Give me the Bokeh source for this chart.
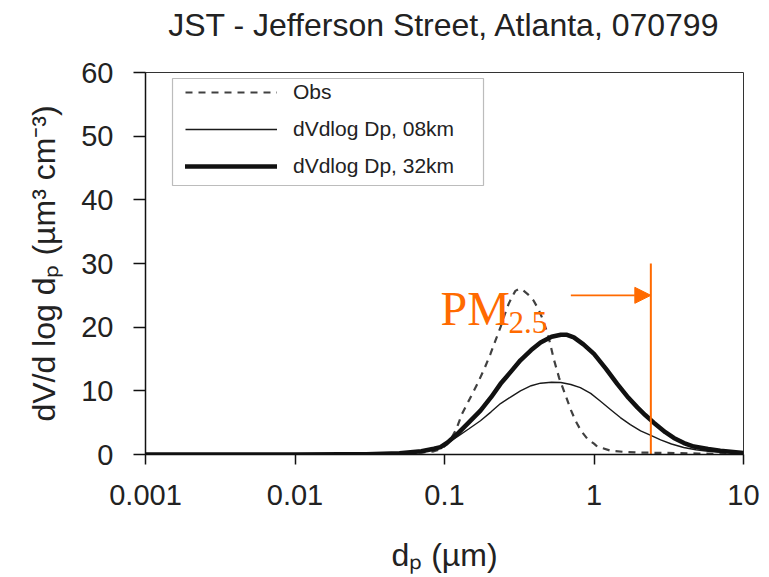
from bokeh.plotting import figure
from bokeh.models import (Legend, LegendItem, BoxAnnotation, Label, Arrow, NormalHead,
                          FixedTicker, CustomJSTickFormatter, Title)
from bokeh.embed import file_html
from bokeh.resources import INLINE

# ---------------- data ----------------
diam_obs = [0.001, 0.01, 0.03, 0.05, 0.07, 0.085, 0.094, 0.104, 0.112, 0.12, 0.131, 0.148,
            0.166, 0.185, 0.203, 0.22, 0.237, 0.253, 0.269, 0.285, 0.298, 0.315, 0.335,
            0.36, 0.394, 0.425, 0.459, 0.5, 0.538, 0.585, 0.645, 0.7, 0.752, 0.82, 0.9,
            1.0, 1.05, 1.29, 1.6, 2.0, 3.0, 5.0, 10.0]
v_obs = [0.0, 0.0, 0.02, 0.1, 0.3, 0.5, 0.8, 1.6, 2.7, 4.0, 6.4, 8.8,
         11.1, 13.5, 15.8, 18.0, 20.0, 22.0, 23.7, 24.9, 25.7, 26.0, 25.8,
         25.2, 24.2, 22.8, 21.0, 18.2, 15.0, 12.0, 9.3, 7.0, 5.3, 3.7, 2.5,
         1.7, 1.25, 0.6, 0.4, 0.3, 0.25, 0.15, 0.05]

diam_32 = [0.001, 0.01, 0.02, 0.03, 0.05, 0.07, 0.085, 0.094, 0.105, 0.122, 0.145, 0.174,
           0.205, 0.237, 0.28, 0.322, 0.38, 0.439, 0.52, 0.6, 0.66, 0.733, 0.85, 1.0,
           1.2, 1.43, 1.7, 1.95, 2.2, 2.51, 3.0, 3.42, 4.0, 4.65, 5.8, 7.0, 10.0]
v_32 = [0.0, 0.0, 0.02, 0.05, 0.2, 0.5, 0.9, 1.15, 1.9, 3.25, 5.0, 6.9,
        9.0, 11.1, 13.1, 14.8, 16.4, 17.6, 18.5, 18.8, 18.8, 18.4, 17.3, 15.8,
        13.5, 11.1, 8.9, 7.4, 6.2, 5.0, 3.5, 2.6, 1.8, 1.25, 0.85, 0.6, 0.25]

diam_08 = [0.001, 0.01, 0.03, 0.05, 0.07, 0.094, 0.122, 0.145, 0.174, 0.205, 0.237, 0.28,
           0.322, 0.38, 0.439, 0.52, 0.6, 0.7, 0.81, 0.95, 1.1, 1.3, 1.5, 1.75, 2.05,
           2.4, 2.79, 3.3, 3.98, 4.8, 5.8, 7.5, 10.0]
v_08 = [0.0, 0.0, 0.05, 0.2, 0.5, 1.1, 2.8, 4.0, 5.3, 6.7, 8.0, 9.1,
        10.0, 10.8, 11.2, 11.35, 11.3, 11.0, 10.5, 9.6, 8.4, 7.0, 5.8, 4.7, 3.7,
        3.0, 2.3, 1.65, 1.1, 0.75, 0.5, 0.3, 0.15]

x_ticks = [0.001, 0.01, 0.1, 1, 10]
y_ticks = [0, 10, 20, 30, 40, 50, 60]

series_labels = ["Obs", "dVdlog Dp, 08km", "dVdlog Dp, 32km"]
title_text = "JST - Jefferson Street, Atlanta, 070799"
x_label = "d\u209a (\u00b5m)"
y_label = "dV/d log d\u209a (\u00b5m\u00b3 cm\u207b\u00b3)"

pm_cut = 2.4          # PM2.5 cut line position (um)
pm_line_top = 30      # top of orange line
pm_arrow_start = 0.70
pm_arrow_y = 25
pm_text_x = 0.094
pm_text_y = 22.9

ORANGE = "#FF6A00"
TXT = "#222222"
SANS = "Liberation Sans"

# ---------------- figure ----------------
p = figure(width=760, height=576, x_axis_type="log", x_range=(0.001, 10), y_range=(0, 60),
           output_backend="svg", toolbar_location=None,
           min_border_left=145, min_border_right=17, min_border_top=72, min_border_bottom=122)
p.background_fill_color = "white"
p.border_fill_color = "white"
p.outline_line_color = "#333333"
p.outline_line_width = 1
p.xgrid.visible = False
p.ygrid.visible = False
p.title.text = ""

# spacer (innermost) then the real title (outer)
p.add_layout(Title(text=" ", text_font_size="20px", standoff=6), "above")
p.add_layout(Title(text=title_text, align="center", text_font=SANS, text_font_size="32px",
                   text_font_style="normal", text_color=TXT, standoff=0, offset=4), "above")

for ax in (p.xaxis[0], p.yaxis[0]):
    ax.axis_line_color = "#111111"
    ax.axis_line_width = 1.5
    ax.major_tick_line_color = "#111111"
    ax.major_tick_line_width = 1.5
    ax.major_tick_in = 0
    ax.minor_tick_line_color = None
    ax.major_label_text_font = SANS
    ax.major_label_text_font_size = "29px"
    ax.major_label_text_color = TXT
    ax.axis_label_text_font = SANS
    ax.axis_label_text_font_style = "normal"
    ax.axis_label_text_color = TXT

p.xaxis.ticker = FixedTicker(ticks=x_ticks)
p.xaxis.formatter = CustomJSTickFormatter(code="return tick.toString();")
p.xaxis.major_tick_out = 10
p.xaxis.major_label_standoff = 20
p.xaxis.axis_label = x_label
p.xaxis.axis_label_text_font_size = "32px"
p.xaxis.axis_label_standoff = 29

p.yaxis.ticker = FixedTicker(ticks=y_ticks)
p.yaxis.major_tick_out = 12
p.yaxis.major_label_standoff = 20
p.yaxis.axis_label = y_label
p.yaxis.axis_label_text_font_size = "32px"
p.yaxis.axis_label_standoff = 16

# ---------------- curves ----------------
r_obs = p.line(diam_obs, v_obs, line_color="#404040", line_width=2.2, line_dash="7 6")
r_08 = p.line(diam_08, v_08, line_color="#1a1a1a", line_width=1.4)
r_32 = p.line(diam_32, v_32, line_color="#111111", line_width=4.5, line_cap="round",
              line_join="round")

# ---------------- PM2.5 annotation ----------------
p.segment(x0=[pm_cut], y0=[0], x1=[pm_cut], y1=[pm_line_top], line_color=ORANGE, line_width=2)
p.add_layout(Arrow(x_start=pm_arrow_start, y_start=pm_arrow_y, x_end=pm_cut, y_end=pm_arrow_y,
                   line_color=ORANGE, line_width=1.6,
                   end=NormalHead(size=16, fill_color=ORANGE, line_color=ORANGE)))
p.add_layout(Label(x=pm_text_x, y=pm_text_y, text="PM", text_font="Liberation Serif",
                   text_font_size="48px", text_color=ORANGE, text_baseline="alphabetic"))
p.add_layout(Label(x=pm_text_x, y=pm_text_y, x_offset=68, y_offset=-14, text="2.5",
                   text_font="Liberation Serif", text_font_size="31px", text_color=ORANGE,
                   text_baseline="alphabetic"))

# ---------------- legend ----------------
p.add_layout(BoxAnnotation(left=27, right=338, bottom=269, top=376,
                           left_units="screen", right_units="screen",
                           bottom_units="screen", top_units="screen",
                           fill_color="white", fill_alpha=1.0,
                           line_color="#222222", line_width=1.2))
legend = Legend(items=[LegendItem(label=series_labels[0], renderers=[r_obs]),
                       LegendItem(label=series_labels[1], renderers=[r_08]),
                       LegendItem(label=series_labels[2], renderers=[r_32])],
                location=(40, 276), margin=0, padding=8, spacing=13,
                glyph_width=92, glyph_height=22, label_height=22, label_standoff=16,
                label_text_font=SANS, label_text_font_size="21px", label_text_color=TXT,
                border_line_color=None, background_fill_alpha=0.0)
p.add_layout(legend)

open("out.html", "w").write(file_html(p, INLINE))
